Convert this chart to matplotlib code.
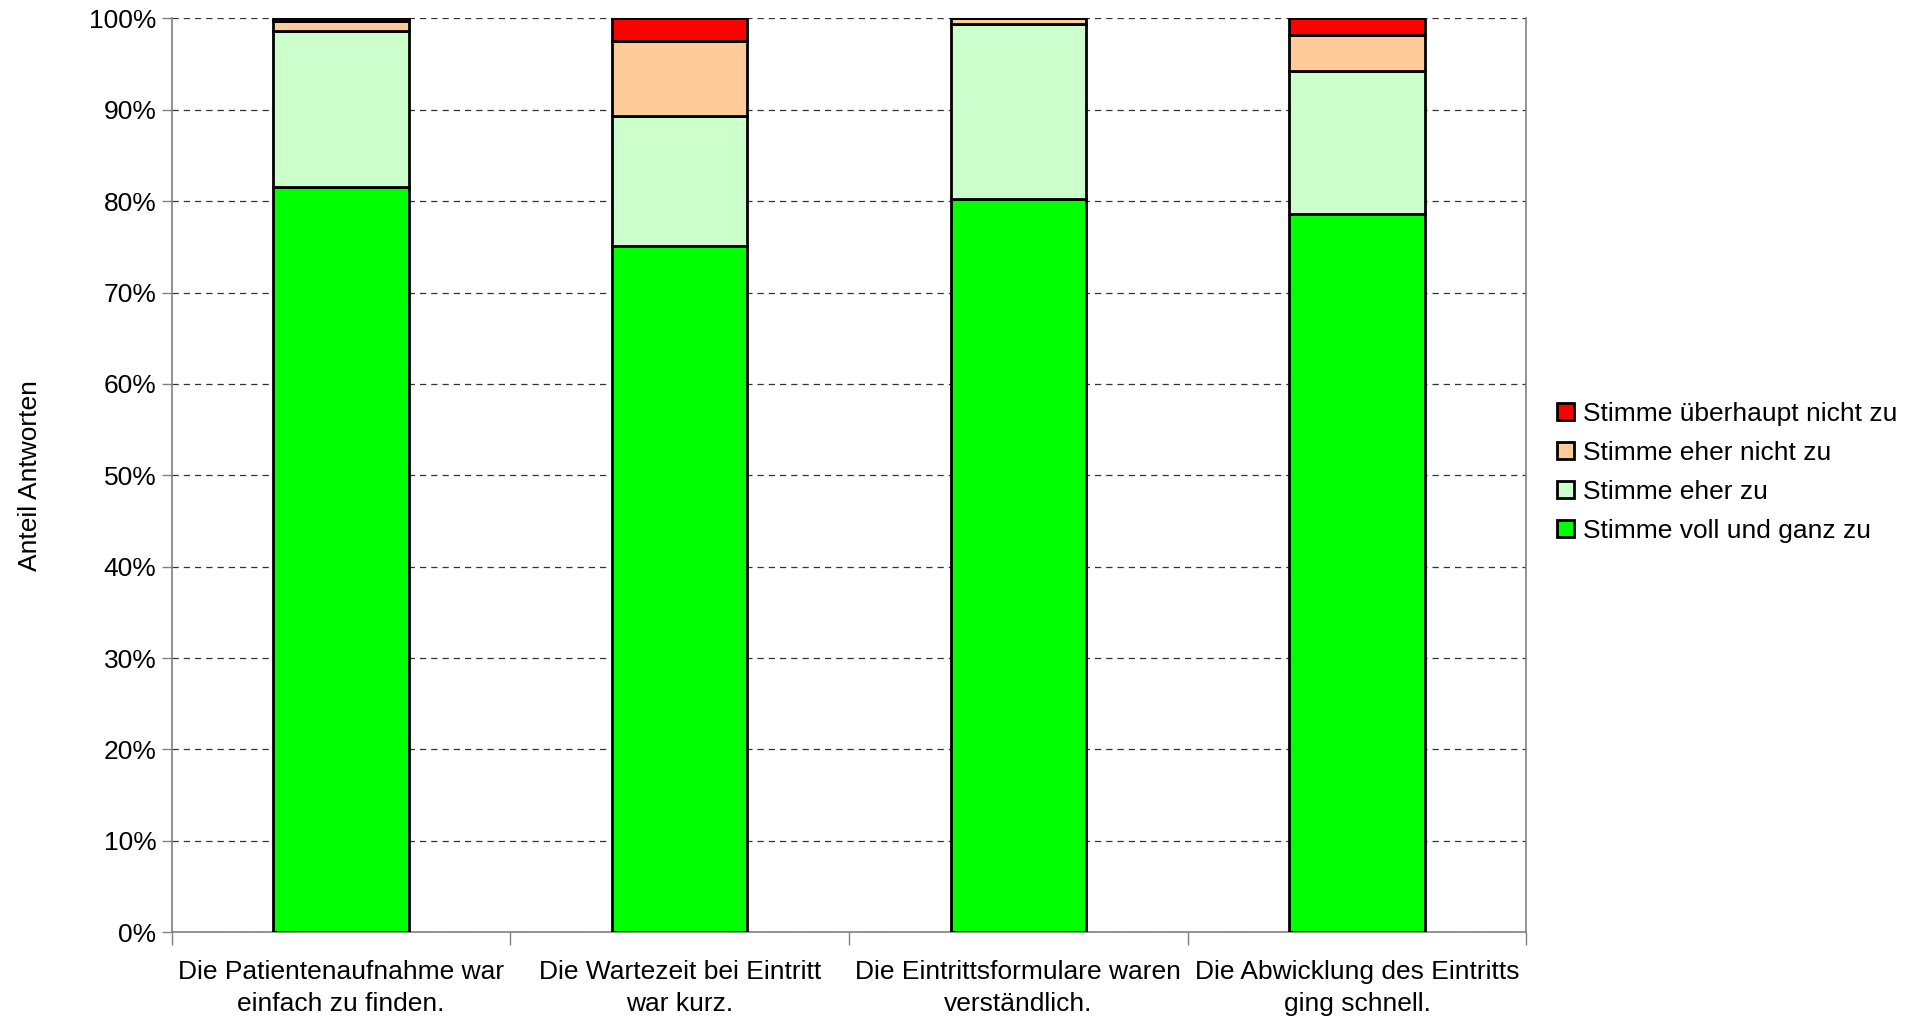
import matplotlib
matplotlib.use("Agg")
import matplotlib.pyplot as plt
import numpy as np
from matplotlib.ticker import FixedLocator, PercentFormatter

plt.rcParams['font.family'] = ['Liberation Sans', 'DejaVu Sans']

categories = [
    "Die Patientenaufnahme war\neinfach zu finden.",
    "Die Wartezeit bei Eintritt\nwar kurz.",
    "Die Eintrittsformulare waren\nverständlich.",
    "Die Abwicklung des Eintritts\nging schnell.",
]
series_names = [
    "Stimme voll und ganz zu",
    "Stimme eher zu",
    "Stimme eher nicht zu",
    "Stimme überhaupt nicht zu",
]
voll_und_ganz = [81.6, 75.1, 80.2, 78.6]
eher_zu = [17.0, 14.2, 19.2, 15.6]
eher_nicht = [1.1, 8.2, 0.6, 4.0]
ueberhaupt_nicht = [0.3, 2.5, 0.0, 1.8]
colors = ["#00FF00", "#CCFFCC", "#FFCC99", "#FF0000"]

series = [voll_und_ganz, eher_zu, eher_nicht, ueberhaupt_nicht]

FS = 19.0

fig = plt.figure(figsize=(19.21, 10.22), dpi=100)
ax = fig.add_axes([0.0893, 0.0878, 0.7053, 0.8942])

x = np.arange(len(categories))
bottom = np.zeros(len(categories))
handles = []
for name, vals, col in zip(series_names, series, colors):
    vals = np.array(vals)
    b = ax.bar(x, vals, width=0.40, bottom=bottom, color=col,
               edgecolor="black", linewidth=2.0, label=name, zorder=3)
    handles.append(b)
    bottom += vals

ax.set_xlim(-0.5, len(categories) - 0.5)
ax.set_ylim(0, 100)
ax.yaxis.set_major_locator(FixedLocator(np.arange(0, 101, 10)))
ax.yaxis.set_major_formatter(PercentFormatter(decimals=0))
ax.grid(axis="y", color="#333333", linestyle=(0, (5, 4)), linewidth=0.9, zorder=0)
ax.set_axisbelow(True)

ax.set_xticks(x)
ax.set_xticklabels(categories, fontsize=FS, linespacing=1.4)
ax.set_xticks(np.arange(-0.5, len(categories), 1.0), minor=True)
ax.tick_params(axis="x", which="major", length=0, pad=20)
ax.tick_params(axis="x", which="minor", length=9, width=1, color="#808080", direction="out")
ax.tick_params(axis="y", length=7, width=1, color="#808080", direction="out", labelsize=FS, pad=4)

for s in ["left", "right", "bottom"]:
    ax.spines[s].set_color("#808080")
    ax.spines[s].set_linewidth(1.2)
ax.spines["top"].set_visible(False)

ax.set_ylabel("Anteil Antworten", fontsize=FS, labelpad=34)

fig.legend(handles[::-1], series_names[::-1], loc="center left",
           bbox_to_anchor=(0.8035, 0.538), frameon=False, fontsize=FS,
           handlelength=0.65, handleheight=0.65, handletextpad=0.35,
           labelspacing=0.57, borderpad=0)

fig.savefig("out.png", dpi=100)
